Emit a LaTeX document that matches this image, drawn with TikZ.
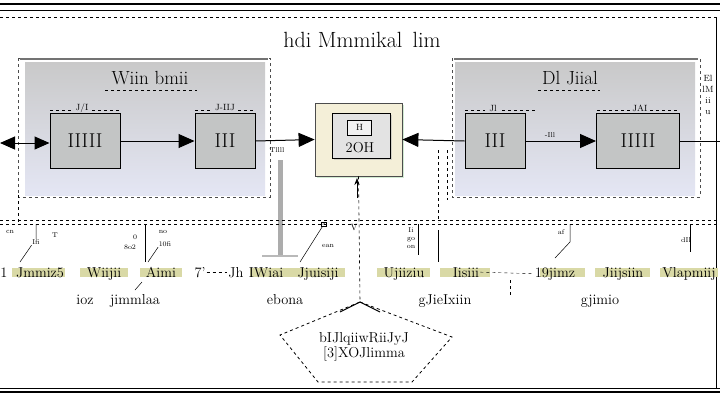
\documentclass[tikz,border=0pt]{standalone}
\usetikzlibrary{arrows.meta,shadows}
\definecolor{boxgray}{HTML}{C3C5C5}
\definecolor{grouptop}{HTML}{C9C9C9}
\definecolor{groupbot}{HTML}{E4E6F4}
\definecolor{cream}{HTML}{F4EFD8}
\definecolor{hilite}{HTML}{D9D9A6}
\begin{document}
\begin{tikzpicture}[x=1pt,y=-1pt,
  blk/.style={draw=black,line width=1pt,fill=boxgray,minimum width=#1,minimum height=55pt,font=\fontsize{20}{22}\selectfont,inner sep=0pt},
  grp/.style={draw=black!70,dashed,line width=0.6pt},
  grpfill/.style={top color=grouptop,bottom color=groupbot,draw=none},
  big/.style={-{Triangle[length=16pt,width=14pt]},line width=1pt},
  wrd/.style={font=\Large,inner sep=1pt,anchor=base},
  sub/.style={font=\Large,inner sep=1pt,anchor=base},
  glab/.style={font=\fontsize{19}{21}\selectfont},
  tiny/.style={font=\scriptsize,inner sep=0.5pt},
  tick/.style={line width=0.5pt}]
\useasboundingbox (0,0) rectangle (720,400);
\fill[white] (0,0) rectangle (720,400);
% frame lines
\draw[line width=1.6pt] (0,4) -- (720,4);
\draw[line width=0.5pt] (0,10.5) -- (720,10.5);
\draw[dashed,line width=0.5pt] (0,17) -- (720,17);
\draw[line width=1.6pt] (0,392) -- (720,392);
\draw[line width=0.5pt] (0,388) -- (720,388);
\draw[line width=0.5pt] (716,17) -- (716,388);
% title
\node[font=\fontsize{22}{24}\selectfont] (title) at (362,40) {hdi Mmmikal \,lim};
% left group
\fill[grpfill] (25,62) rectangle (265,195);
\draw[grp] (18,58) rectangle (270,197);
\draw[line width=1.2pt,black!55] (20,59) -- (268,59);
\node[glab] (gl) at (150,78) {Wiin bmii};
\draw[dashed,line width=0.4pt] (105,90) -- (197,90);
\node[blk=70pt] (A) at (85,141) {IIIII};
\node[blk=60pt] (B) at (225,141) {III};
\node[tiny,font=\small] (la) at (82,108) {J/I};
\node[tiny,font=\small] (lb) at (225,108) {J-IIJ};
\draw[dashed,line width=0.4pt] (50,110) -- (72,110) (92,110) -- (120,110);
\draw[dashed,line width=0.4pt] (195,110) -- (212,110) (238,110) -- (255,110);
% right group
\fill[grpfill] (455,62) rectangle (695,195);
\draw[grp] (452,58) rectangle (700,197);
\draw[line width=1.2pt,black!55] (454,59) -- (698,59);
\node[glab] (gr) at (570,78) {Dl Jiial};
\draw[dashed,line width=0.4pt] (538,90) -- (600,90);
\node[blk=60pt] (C) at (495,141) {III};
\node[blk=83pt] (D) at (638,141) {IIIII};
\node[tiny,font=\small] (lc) at (493,108) {Jl};
\node[tiny,font=\small] (ld) at (640,108) {JAI};
\draw[dashed,line width=0.4pt] (465,110) -- (485,110) (502,110) -- (535,110);
\draw[dashed,line width=0.4pt] (597,110) -- (630,110) (650,110) -- (680,110);
\node[tiny,font=\small,align=center] (rs) at (708,95) {El\\ lM\\ ii\\ u};
% center block
\node[draw=black!70,line width=0.8pt,fill=cream,minimum width=87pt,minimum height=73pt,
  drop shadow={shadow xshift=2pt,shadow yshift=-2pt,fill=green!40!gray!50}] (Cout) at (358.5,139.5) {};
\node[draw=black,line width=1pt,fill=gray!22,minimum width=58pt,minimum height=45pt,
  drop shadow={shadow xshift=2pt,shadow yshift=-2pt,fill=gray!60}] (Cin) at (361,135.5) {};
\node[draw=black,line width=0.8pt,fill=gray!10,minimum width=24pt,minimum height=15pt,inner sep=0pt,font=\small] (Ch) at (359.5,127.5) {H};
\node[font=\Large,inner sep=0pt] (Ct) at (360,148) {2OH};
% connectors in the row
\draw[{Triangle[length=15pt,width=13pt]}-{Triangle[length=15pt,width=13pt]},line width=1pt] (0,143) -- (A.west|-0,143);
\draw[big] (A.east) -- (B.west);
\draw[big] (B.east) -- (Cout.west);
\draw[big] (C.west) -- (Cout.east);
\draw[big] (C.east) -- (D.west);
\draw[line width=1pt] (D.east) -- (720,141);
\node[tiny] (mk1) at (277,150) {Tllll};
\node[tiny] (mk2) at (550,135) {-Ill};
% gray post
\draw[line width=5pt,gray!65] (280,160) -- (280,255);
\draw[line width=2pt,gray!55] (262,256) -- (298,256);
% center vertical
\coordinate (pTop) at (360,302);
\draw[dashed,line width=0.6pt] (Cout.south) -- (pTop);
\coordinate (up1) at (357,198);
\draw[-{Stealth[length=7pt]},line width=0.7pt] (up1) -- (357,178);
\node[font=\small] (v) at (354,228) {V};
% horizontal dashed divider
\draw[dashed,line width=0.5pt] (0,220) -- (720,220);
\draw[dashed,line width=0.5pt] (0,224) -- (720,224);
\draw[dashed,line width=0.5pt] (438,150) -- (438,222);
\draw[dashed,line width=0.5pt] (447,150) -- (447,200);
\draw[dashed,line width=0.5pt] (18,195) -- (18,222);
% highlight bands
\foreach \a/\b in {12/65,80/128,140/182,250/345,377/430,440/490,540/585,595/650,660/718}
  \fill[hilite] (\a,268) rectangle (\b,277);
% text row
\node[wrd] (w1) at (4,277) {1};
\node[wrd] (w2) at (40,277) {Jmmiz5};
\node[wrd] (w3) at (104,277) {Wiijii};
\node[wrd] (w4) at (161,277) {Aimi};
\node[wrd] (w5) at (200,277) {7'};
\node[wrd] (w6) at (236,277) {Jh};
\node[wrd] (w7) at (266,277) {IWiai};
\node[wrd] (w8) at (318,277) {Jjuisiji};
\node[wrd] (w9) at (404,277) {Ujiiziu};
\node[wrd] (w10) at (466,277) {Iisiii};
\node[wrd] (w11) at (555,277) {19jimz};
\node[wrd] (w12) at (623,277) {Jiijsiin};
\node[wrd] (w13) at (689,277) {Vlapmiij};
\draw[dashed,line width=0.4pt] (w5.east) -- (w6.west);
\draw[dashed,line width=0.4pt] (w10.east) -- (w11.west);
\draw[dashed,line width=0.4pt] (510,280) -- (510,296);
% second row
\node[sub] (s1) at (85,304) {ioz};
\node[sub] (s2) at (135,304) {jimmlaa};
\node[sub] (s3) at (285,304) {ebona};
\node[sub] (s4) at (445,304) {gJieIxiin};
\node[sub] (s5) at (600,304) {gjimio};
% tiny labels
\node[tiny] (t1) at (10,232) {cn};
\node[tiny] (t2) at (36,242) {Ifi};
\node[tiny] (t3) at (55,235) {T};
\node[tiny] (t4) at (135,237) {0};
\node[tiny] (t5) at (130,247) {8o2};
\node[tiny] (t6) at (163,232) {no};
\node[tiny] (t7) at (165,244) {10fi};
\node[tiny] (t8) at (328,246) {ean};
\node[draw,line width=0.6pt,inner sep=1pt,font=\tiny] (t9) at (324,224) {a};
\node[tiny,align=center] (t10) at (411,238) {Ii\\go\\on};
\node[tiny] (t11) at (561,232) {af};
\node[tiny] (t12) at (686,240) {dIl};
\draw[tick] (t9) -- (300,262);
\draw[tick] (t2.north) -- (36,224) (20,262) -- (t2.south west);
\draw[tick] (145,224) -- (145,262);
\draw[tick] (t7.south west) -- (148,262);
\draw[tick] (418,224) -- (418,255);
\draw[tick] (438,230) -- (438,262);
\draw[tick] (570,224) -- (570,242) -- (555,258);
\draw[tick] (690,224) -- (690,252);
\draw[tick] (142,282) -- (135,290);
% pentagon
\node[font=\Large,align=center,inner sep=0pt] (pent) at (364,347) {bIJlqiiwRiiJyJ\\[-3pt]{[3]}XOJlimma};
\draw[dashed,line width=0.8pt] (pTop) -- (452,337) -- (412,382) -- (318,382) -- (280,335) -- cycle;
\draw[line width=1pt] (340,312) -- (pTop) -- (380,312);
\end{tikzpicture}
\end{document}
